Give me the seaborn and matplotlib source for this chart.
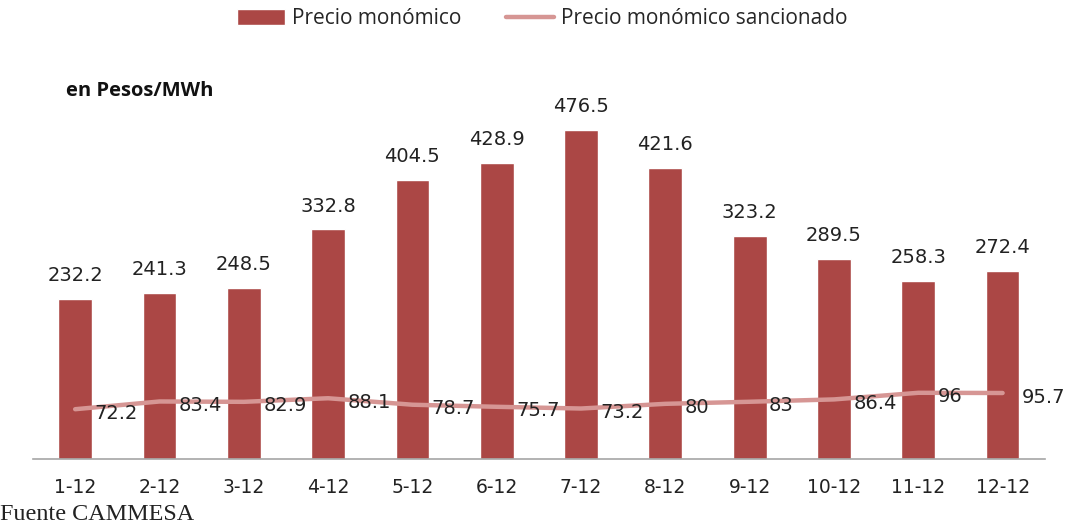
import pandas as pd
import seaborn as sns
import matplotlib.pyplot as plt

meses = ["1-12", "2-12", "3-12", "4-12", "5-12", "6-12", "7-12", "8-12", "9-12", "10-12", "11-12", "12-12"]
monomico = [232.2, 241.3, 248.5, 332.8, 404.5, 428.9, 476.5, 421.6, 323.2, 289.5, 258.3, 272.4]
sancionado = [72.2, 83.4, 82.9, 88.1, 78.7, 75.7, 73.2, 80, 83, 86.4, 96, 95.7]
sancionado_txt = ["72.2", "83.4", "82.9", "88.1", "78.7", "75.7", "73.2", "80", "83", "86.4", "96", "95.7"]

df = pd.DataFrame({"mes": meses, "monomico": monomico, "sancionado": sancionado})
df["pos"] = range(len(df))

sns.set_style("white")
plt.rcParams['font.family'] = ['DejaVu Sans']

fig = plt.figure(figsize=(10.65, 5.29), dpi=100)
ax = fig.add_axes([0.031, 0.1323, 0.95, 0.652])

bar_col = "#AB4745"
line_col = "#D69694"

sns.barplot(data=df, x="pos", y="monomico", color=bar_col, width=0.4,
            saturation=1, ax=ax, native_scale=True, label="Precio monómico")
sns.lineplot(data=df, x="pos", y="sancionado", color=line_col, linewidth=3.2,
             ax=ax, label="Precio monómico sancionado")

ax.bar_label(ax.containers[0], labels=[f"{v:.1f}" for v in monomico],
             padding=10, fontsize=14, color="#222222")
for i, (v, t) in enumerate(zip(sancionado, sancionado_txt)):
    ax.annotate(t, (i, v), xytext=(14, -3), textcoords="offset points",
                ha="left", va="center", fontsize=14, color="#222222")

ax.set_xlim(-0.5, 11.5)
ax.set_ylim(0, 500)
ax.set_xticks(df["pos"])
ax.set_xticklabels(meses, fontsize=13.5, color="#222222")
ax.tick_params(axis="x", length=0, pad=14)
ax.set_yticks([])
ax.set_xlabel("")
ax.set_ylabel("")
for s in ["top", "right", "left"]:
    ax.spines[s].set_visible(False)
ax.spines["bottom"].set_color("#A6A6A6")
ax.spines["bottom"].set_linewidth(1.2)

h, l = ax.get_legend_handles_labels()
orden = [l.index("Precio monómico"), l.index("Precio monómico sancionado")]
if ax.legend_:
    ax.legend_.remove()
fig.legend([h[i] for i in orden], [l[i] for i in orden], loc="upper center",
           bbox_to_anchor=(0.509, 1.02), ncol=2, frameon=False,
           handlelength=2.3, handleheight=0.8, handletextpad=0.33, columnspacing=2.15,
           prop={"family": "Open Sans", "size": 15})

fig.text(0.062, 0.828, "en Pesos/MWh", fontsize=14.5, fontweight="bold",
         family="Open Sans", color="#111111", va="center")
fig.text(0.0, 0.028, "Fuente CAMMESA", fontsize=17.4, family="Liberation Serif",
         color="#222222", va="center")

plt.savefig("out.png", dpi=100)
plt.close()
